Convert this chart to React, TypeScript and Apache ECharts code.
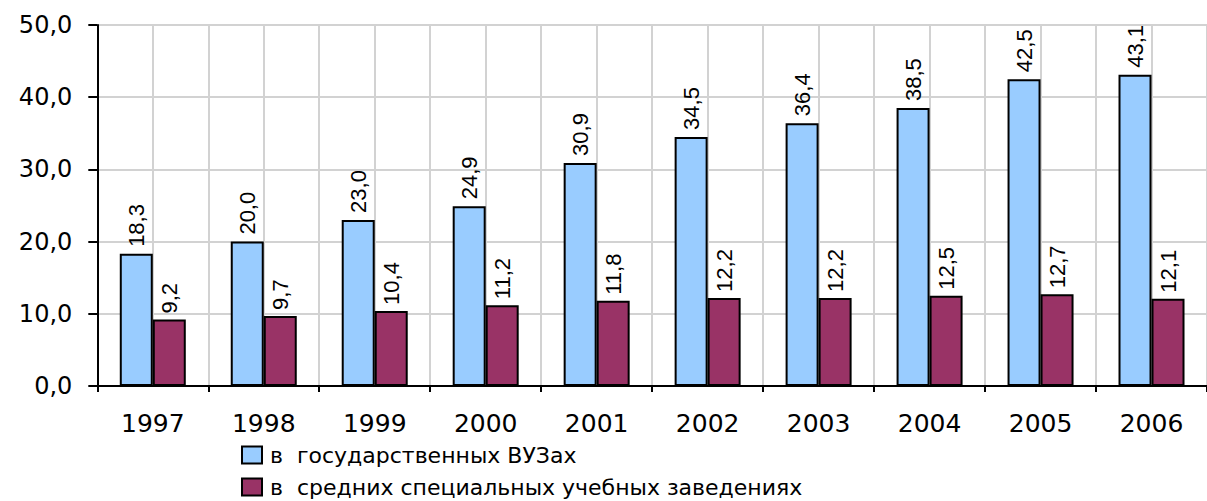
import React, { useEffect, useRef } from "react";
import * as echarts from "echarts";

const years = ["1997", "1998", "1999", "2000", "2001", "2002", "2003", "2004", "2005", "2006"];
const stateUniversities = [18.3, 20.0, 23.0, 24.9, 30.9, 34.5, 36.4, 38.5, 42.5, 43.1];
const secondarySpecial = [9.2, 9.7, 10.4, 11.2, 11.8, 12.2, 12.2, 12.5, 12.7, 12.1];
const seriesNames = ["в  государственных ВУЗах", "в  средних специальных учебных заведениях"];
const halfSlots = Array.from({ length: years.length * 2 }, (_, i) => String(i));

const fmt = (v: number) => v.toFixed(1).replace(".", ",");
const WIDE = "DejaVu Sans, Verdana, sans-serif";
const LABEL_FONT = "Liberation Sans, Arial, sans-serif";

export default function App() {
  const ref = useRef<HTMLDivElement>(null);
  useEffect(() => {
    if (!ref.current) return;
    const chart = echarts.init(ref.current, undefined, { renderer: "svg" });
    const makeLabel = (distance: number) => ({
      show: true,
      position: "top" as const,
      rotate: 90,
      align: "left" as const,
      verticalAlign: "middle" as const,
      distance,
      offset: [-3, 0],
      color: "#000",
      fontSize: 22,
      fontFamily: LABEL_FONT,
      formatter: (p: any) => fmt(p.value),
    });
    chart.setOption({
      animation: false,
      textStyle: { fontFamily: WIDE },
      grid: { left: 97.3, right: -11, top: 25, bottom: 115, containLabel: false },
      legend: {
        orient: "vertical",
        left: 241,
        top: 444,
        padding: 0,
        itemWidth: 20,
        itemHeight: 17,
        itemGap: 10,
        icon: "rect",
        itemStyle: { borderColor: "#000", borderWidth: 2 },
        textStyle: { fontSize: 22, color: "#000", fontFamily: WIDE, padding: [0, 0, 0, 3] },
        data: seriesNames,
      },
      xAxis: [
        {
          type: "category",
          data: years,
          axisLine: { lineStyle: { color: "#000", width: 2 } },
          axisTick: { show: true, length: 6, lineStyle: { color: "#000", width: 2 } },
          axisLabel: { color: "#000", fontSize: 25, margin: 25, fontFamily: WIDE },
          splitLine: { show: false },
        },
        {
          type: "category",
          data: halfSlots,
          position: "bottom",
          axisLine: { show: false },
          axisTick: { show: false },
          axisLabel: { show: false },
          splitLine: { show: true, lineStyle: { color: "#d2d2d2", width: 2 } },
        },
      ],
      yAxis: {
        type: "value",
        min: 0,
        max: 50,
        interval: 10,
        axisLine: { show: true, lineStyle: { color: "#000", width: 2 } },
        axisTick: { show: true, length: 9, lineStyle: { color: "#000", width: 2 } },
        axisLabel: { color: "#000", fontSize: 24, margin: 25, fontFamily: WIDE, formatter: (v: number) => fmt(v) },
        splitLine: { show: true, lineStyle: { color: "#d2d2d2", width: 2 } },
      },
      series: [
        {
          name: seriesNames[0],
          type: "bar",
          xAxisIndex: 0,
          data: stateUniversities,
          barWidth: 33,
          barGap: "0%",
          itemStyle: { color: "#99CCFF", borderColor: "#000", borderWidth: 2 },
          label: makeLabel(10),
        },
        {
          name: seriesNames[1],
          type: "bar",
          xAxisIndex: 0,
          data: secondarySpecial,
          barWidth: 33,
          barGap: "0%",
          itemStyle: { color: "#993366", borderColor: "#000", borderWidth: 2 },
          label: makeLabel(9),
        },
      ],
    });
    return () => chart.dispose();
  }, []);
  return (
    <div
      ref={ref}
      style={{ position: "absolute", left: 0, top: 0, width: 1207, height: 501, background: "#fff" }}
    />
  );
}
